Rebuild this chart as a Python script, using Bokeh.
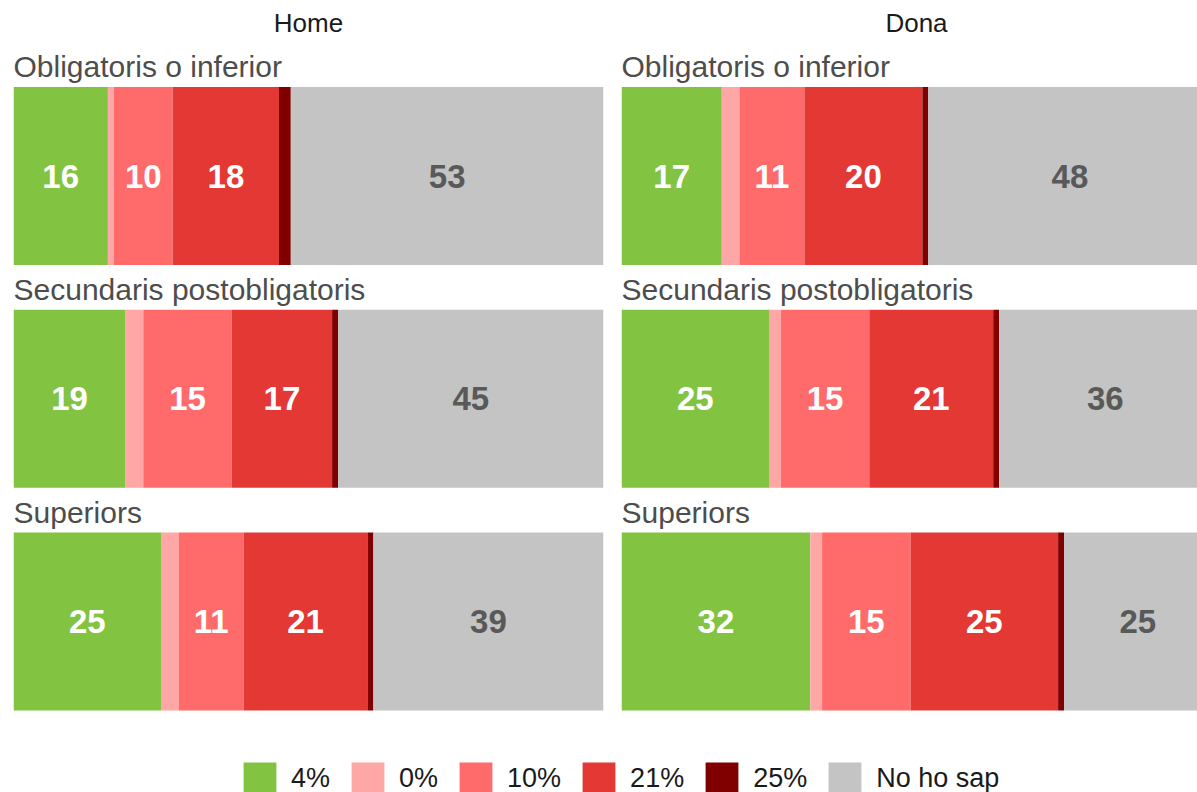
from bokeh.plotting import figure
from bokeh.models import ColumnDataSource, Range1d, Legend, LegendItem
from bokeh.layouts import row, column
from bokeh.embed import file_html
from bokeh.resources import INLINE
from bokeh.core.properties import value

# ---------------- data ----------------
panels = ["Home", "Dona"]
levels = ["Obligatoris o inferior", "Secundaris postobligatoris", "Superiors"]
categories = ["4%", "0%", "10%", "21%", "25%", "No ho sap"]
colors = ["#82c341", "#ffa6a6", "#ff6b6b", "#e43835", "#800000", "#c4c4c4"]

home_4 = [16, 19, 25]
home_0 = [1, 3, 3]
home_10 = [10, 15, 11]
home_21 = [18, 17, 21]
home_25 = [2, 1, 1]
home_ns = [53, 45, 39]

dona_4 = [17, 25, 32]
dona_0 = [3, 2, 2]
dona_10 = [11, 15, 15]
dona_21 = [20, 21, 25]
dona_25 = [1, 1, 1]
dona_ns = [48, 36, 25]

home_series = [home_4, home_0, home_10, home_21, home_25, home_ns]
dona_series = [dona_4, dona_0, dona_10, dona_21, dona_25, dona_ns]

# ---------------- layout constants ----------------
FONT = "Liberation Sans"
PANEL_H = 720
ROW_PX = 222.75
Y_TOP = -175.5 / ROW_PX
Y_BOTTOM = Y_TOP + PANEL_H / ROW_PX
BAR_H = 0.8
TITLE_Y = Y_TOP + 22.7 / ROW_PX
STRIP_DY = -109.2 / ROW_PX
LABEL_MIN = 5


def make_panel(title, series, width, bl, br, x_end):
    p = figure(width=width, height=PANEL_H,
               x_range=Range1d(0, x_end), y_range=Range1d(Y_BOTTOM, Y_TOP),
               output_backend="svg", toolbar_location=None,
               x_axis_type=None, y_axis_type=None,
               min_border_left=bl, min_border_right=br,
               min_border_top=0, min_border_bottom=0)
    p.outline_line_color = None
    p.grid.visible = False
    p.background_fill_color = "white"
    p.border_fill_color = "white"

    rows = list(range(len(levels)))
    keys = [f"k{i}" for i in range(len(categories))]
    data = {"y": rows}
    for k, s in zip(keys, series):
        data[k] = s
    src = ColumnDataSource(data)
    p.hbar_stack(keys, y="y", height=BAR_H, fill_color=colors,
                 line_color=None, source=src)

    # value labels
    lx, ly, lt, lc = [], [], [], []
    for r in rows:
        left = 0
        for ci, s in enumerate(series):
            v = s[r]
            if v >= LABEL_MIN:
                lx.append(left + v / 2)
                ly.append(r)
                lt.append(str(v))
                lc.append("#595959" if categories[ci] == "No ho sap" else "white")
            left += v
    lsrc = ColumnDataSource(dict(x=lx, y=ly, text=lt, color=lc))
    p.text(x="x", y="y", text="text", text_color="color", source=lsrc,
           text_align="center", text_baseline="middle",
           text_font=value(FONT), text_font_size="33px",
           text_font_style="bold")

    # strip labels
    p.text(x=[0] * len(levels), y=[r + STRIP_DY for r in rows], text=levels,
           text_align="left", text_baseline="middle",
           text_font=value(FONT), text_font_size="30px",
           text_color="#4d4d4d")

    # panel title
    p.text(x=[50], y=[TITLE_Y], text=[title], text_align="center",
           text_baseline="middle", text_font=value(FONT),
           text_font_size="26px", text_color="#1a1a1a")
    return p


p1 = make_panel(panels[0], home_series, 612, 13, 9, 100)
p2 = make_panel(panels[1], dona_series, 585, 9, 0, 576 / 590 * 100)

# ---------------- legend ----------------
lf = figure(width=1197, height=72, output_backend="svg", toolbar_location=None,
            x_axis_type=None, y_axis_type=None,
            x_range=Range1d(0, 1), y_range=Range1d(0, 1),
            min_border_left=0, min_border_right=0,
            min_border_top=0, min_border_bottom=0)
lf.outline_line_color = None
lf.grid.visible = False
items = []
for cat, col in zip(categories, colors):
    # zero-size proxy glyph: only used to draw the legend swatch
    r = lf.rect(x=[0.5], y=[0.5], width=0, height=0, fill_color=col,
                line_color=None)
    items.append(LegendItem(label=cat, renderers=[r]))
legend = Legend(items=items, orientation="horizontal", location=(239, -7),
                glyph_width=41, glyph_height=41, label_standoff=11, spacing=17,
                padding=0, margin=0, border_line_color=None,
                background_fill_alpha=0, label_text_font=FONT,
                label_text_font_size="27px", label_text_color="#1a1a1a",
                label_text_baseline="middle")
lf.add_layout(legend, "center")

layout = column(row(p1, p2), lf)

with open("out.html", "w") as f:
    f.write(file_html(layout, INLINE))
